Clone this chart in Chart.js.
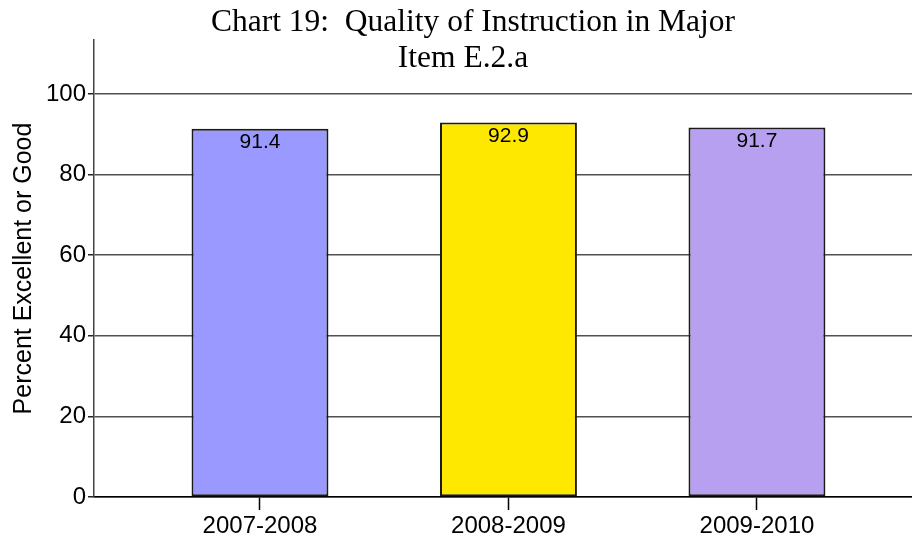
<!DOCTYPE html>
<html>
<head>
<meta charset="utf-8">
<script src="https://cdn.jsdelivr.net/npm/chart.js@4/dist/chart.umd.min.js"></script>
<style>
  body { margin: 0; background: #fff; }
  canvas { display: block; }
</style>
</head>
<body>
<canvas id="chart" width="912" height="541"></canvas>
<script>
// Datos del gráfico
const years = ['2007-2008', '2008-2009', '2009-2010'];
const values = [91.4, 92.9, 91.7];
const barColors = ['#9999FF', '#FFE800', '#B8A0F0'];
const yTicks = [0, 20, 40, 60, 80, 100];
const mainTitle = 'Chart 19:  Quality of Instruction in Major';
const subTitle = 'Item E.2.a';

// Títulos y etiquetas de valores dibujados a mano
const extras = {
    id: 'extras',
    afterDatasetsDraw(chart) {
        const c = chart.ctx;
        c.save();
        c.fillStyle = '#000';
        c.font = '21px "Liberation Sans", Arial, sans-serif';
        c.textAlign = 'center';
        c.textBaseline = 'middle';
        chart.getDatasetMeta(0).data.forEach((bar, i) => {
            c.fillText(values[i].toFixed(1), bar.x, bar.y + 14);
        });
        c.font = '31.5px "Liberation Serif", "Times New Roman", serif';
        c.textBaseline = 'alphabetic';
        c.fillText(mainTitle, 473, 31);
        c.fillText(subTitle, 463, 67);
        c.restore();
    }
};

const ctx = document.getElementById('chart').getContext('2d');

let chart = new Chart(ctx, {
    type: 'bar',
    data: {
        datasets: [{
            data: years.map((_, i) => ({ x: i, y: values[i] })),
            backgroundColor: barColors,
            borderColor: '#1a1a1a',
            borderWidth: 2,
            borderSkipped: false,
            barPercentage: 0.551,
            categoryPercentage: 1
        }]
    },
    options: {
        responsive: false,
        animation: false,
        layout: { padding: { top: 40, right: 0, left: 0, bottom: 0 } },
        plugins: {
            legend: { display: false },
            tooltip: { enabled: false }
        },
        scales: {
            x: {
                type: 'linear',
                offset: false,
                min: -0.668,
                max: 2.624,
                afterBuildTicks: (scale) => { scale.ticks = years.map((_, i) => ({ value: i })); },
                afterFit: (scale) => { scale.height = 44; },
                ticks: {
                    callback: (v) => years[v],
                    color: '#000',
                    font: { family: '"Liberation Sans", Arial, sans-serif', size: 24 },
                    padding: 2,
                    maxRotation: 0,
                    autoSkip: false
                },
                grid: { offset: false, drawOnChartArea: false, drawTicks: true, tickLength: 13, tickColor: '#000', tickWidth: 1.5 },
                border: { display: true, color: '#000', width: 1.5 }
            },
            y: {
                min: 0,
                max: 113.4,
                afterBuildTicks: (scale) => { scale.ticks = yTicks.map(v => ({ value: v })); },
                afterFit: (scale) => { scale.width = 94; },
                ticks: {
                    color: '#000',
                    font: { family: '"Liberation Sans", Arial, sans-serif', size: 24 },
                    padding: 2
                },
                grid: { color: '#505050', lineWidth: 1.5, tickLength: 6, tickColor: '#222', tickWidth: 1.5 },
                border: { display: true, color: '#444', width: 1.5 },
                title: {
                    display: true,
                    text: 'Percent Excellent or Good',
                    color: '#000',
                    font: { family: '"Liberation Sans", Arial, sans-serif', size: 25 },
                    padding: { top: 9, bottom: 0 }
                }
            }
        }
    },
    plugins: [extras]
});
</script>
</body>
</html>
